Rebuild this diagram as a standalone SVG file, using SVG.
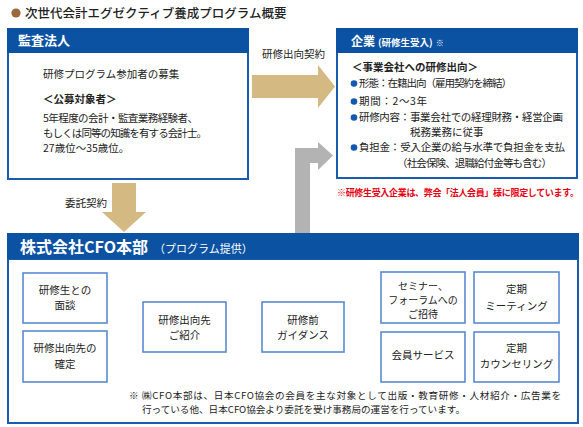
<svg xmlns="http://www.w3.org/2000/svg" width="583" height="427" viewBox="0 0 583 427">
<style>
text{font-family:"Noto Sans CJK JP","Noto Sans",sans-serif;fill:#222;font-size:10.5px}
.hd{fill:#0b52a3}
.bd{fill:#fff;stroke:#1a5cad;stroke-width:2}
.ht{fill:#fff;font-weight:bold}
.b{font-weight:bold}
.sb{fill:#fff;stroke:#5a8ad2;stroke-width:1.6}
.c{text-anchor:middle}
.tan{fill:#d4b983}
.gray{fill:#b3b3b3}
.dot{fill:#1558b0}
.red{fill:#e60012;font-weight:bold;font-size:9px}
.n{font-size:9.6px}
.s{font-size:10px}
</style>
<g id="title">
<circle cx="16" cy="13" r="4.6" fill="#9b6a38"/>
<text x="25" y="17.5" style="font-size:12.5px;font-weight:500" fill="#222">次世代会計エグゼクティブ養成プログラム概要</text>
</g>
<g id="kansa">
<rect class="bd" x="8" y="52" width="240" height="127"/>
<rect class="hd" x="7" y="28" width="242" height="25"/>
<text class="ht" x="18" y="45" style="font-size:13px">監査法人</text>
<text x="43" y="78">研修プログラム参加者の募集</text>
<text class="b" x="43" y="103">＜公募対象者＞</text>
<text x="43" y="122" textLength="155">5年程度の会計・監査業務経験者、</text>
<text x="43" y="137" textLength="164">もしくは同等の知識を有する会計士。</text>
<text x="43" y="152">27歳位〜35歳位。</text>
</g>
<g id="kigyo">
<rect class="bd" x="337" y="52" width="240" height="126"/>
<rect class="hd" x="336" y="28" width="242" height="25"/>
<text class="ht" x="351" y="46" style="font-size:12px">企業<tspan style="font-size:9.5px" dx="3">(研修生受入)</tspan><tspan style="font-size:8px;font-weight:normal" dx="3">※</tspan></text>
<text class="b" x="352" y="71">＜事業会社への研修出向＞</text>
<circle class="dot" cx="354" cy="83.5" r="3.3"/>
<text x="359" y="87" textLength="153">形態：在籍出向（雇用契約を締結）</text>
<circle class="dot" cx="354" cy="101.5" r="3.3"/>
<text x="359" y="105" textLength="68">期間：2〜3年</text>
<circle class="dot" cx="354" cy="117.5" r="3.3"/>
<text x="359" y="121" textLength="204">研修内容：事業会社での経理財務・経営企画</text>
<text x="410" y="136">税務業務に従事</text>
<circle class="dot" cx="354" cy="147.5" r="3.3"/>
<text x="359" y="151" textLength="206">負担金：受入企業の給与水準で負担金を支払</text>
<text x="397" y="167" textLength="155">（社会保険、退職給付金等も含む）</text>
<text class="red" x="337" y="195.5" textLength="242">※研修生受入企業は、弊会「法人会員」様に限定しています。</text>
</g>
<g id="connectors">
<polygon class="tan" points="252,75 318,75 318,65 335,86.5 318,108 318,98 252,98"/>
<text x="262" y="58">研修出向契約</text>
<polygon class="tan" points="112,183 136,183 136,212 146,212 124,232 102,212 112,212"/>
<text x="65" y="207">委託契約</text>
<polygon class="gray" points="295,233 295,148 318,148 318,142 333,155.5 318,170 318,163 310,163 310,233"/>
<rect class="gray" x="295" y="259" width="15" height="43"/>
<polygon class="gray" points="117,313 134,328 117,343"/>
<polygon class="gray" points="237,313 254,328 237,343"/>
<polygon class="gray" points="356,313 373,328 356,343"/>
</g>
<g id="cfo">
<rect class="bd" x="8" y="259" width="570" height="164"/>
<rect class="hd" x="7" y="233" width="572" height="26"/>
<text class="ht" x="20" y="253" style="font-size:16px">株式会社CFO本部<tspan style="font-size:11px;font-weight:normal" dx="6">（プログラム提供）</tspan></text>
<text class="n" x="129" y="399" textLength="432">※ ㈱CFO本部は、日本CFO協会の会員を主な対象として出版・教育研修・人材紹介・広告業を</text>
<text class="n" x="142" y="413" textLength="323">行っている他、日本CFO協会より委託を受け事務局の運営を行っています。</text>
</g>
<g id="mendan">
<rect class="sb" x="23" y="273" width="84" height="50"/>
<text class="c" x="65" y="293.5">研修生との</text>
<text class="c" x="65" y="309">面談</text>
</g>
<g id="kakutei">
<rect class="sb" x="23" y="331" width="84" height="51"/>
<text class="c" x="65" y="352">研修出向先の</text>
<text class="c" x="65" y="368">確定</text>
</g>
<g id="shokai">
<rect class="sb" x="143" y="302" width="83" height="50"/>
<text class="c" x="184.5" y="324">研修出向先</text>
<text class="c" x="184.5" y="339">ご紹介</text>
</g>
<g id="guidance">
<rect class="sb" x="262" y="302" width="82" height="50"/>
<text class="c" x="303" y="324">研修前</text>
<text class="c" x="303" y="339">ガイダンス</text>
</g>
<g id="seminar">
<rect class="sb" x="381" y="272" width="84" height="51"/>
<text class="c s" x="423" y="289.5">セミナー、</text>
<text class="c s" x="423" y="303.5">フォーラムへの</text>
<text class="c s" x="423" y="317.5">ご招待</text>
</g>
<g id="meeting">
<rect class="sb" x="474" y="272" width="85" height="51"/>
<text class="c" x="516.5" y="292.5">定期</text>
<text class="c" x="516.5" y="309.5">ミーティング</text>
</g>
<g id="service">
<rect class="sb" x="381" y="332" width="84" height="50"/>
<text class="c" x="423" y="358.5">会員サービス</text>
</g>
<g id="counseling">
<rect class="sb" x="474" y="332" width="85" height="50"/>
<text class="c" x="516.5" y="352">定期</text>
<text class="c" x="516.5" y="368">カウンセリング</text>
</g>
</svg>
